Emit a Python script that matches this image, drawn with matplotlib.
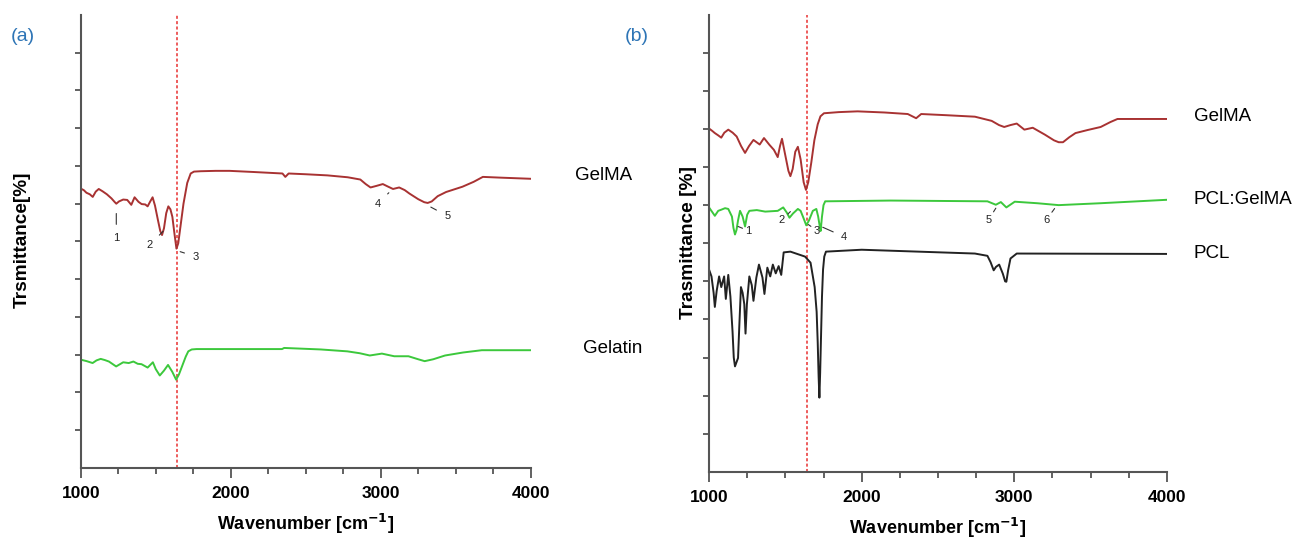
import matplotlib.pyplot as plt

plt.rcParams['font.family'] = ['Liberation Sans', 'DejaVu Sans']

# ---- panel (a) ----
gelma_a_wn = [1000, 1020, 1038, 1060, 1080, 1100, 1120, 1145, 1174, 1205, 1225, 1237, 1255, 1283,
              1310, 1337, 1359, 1385, 1406, 1430, 1446, 1462, 1479, 1495, 1515, 1530, 1542, 1555,
              1570, 1584, 1598, 1611, 1625, 1638, 1650, 1665, 1685, 1710, 1733, 1755, 1800, 1900,
              1992, 2150, 2345, 2364, 2386, 2500, 2645, 2780, 2864, 2900, 2932, 2970, 3014, 3050,
              3082, 3123, 3160, 3191, 3250, 3290, 3313, 3340, 3380, 3436, 3545, 3620, 3681, 3800, 4000]
gelma_a_t = [7.40, 7.36, 7.29, 7.25, 7.18, 7.32, 7.39, 7.33, 7.25, 7.14, 7.05, 7.00, 7.06, 7.11,
             7.10, 6.97, 7.17, 7.05, 6.99, 6.98, 6.93, 7.05, 7.17, 6.95, 6.56, 6.28, 6.17, 6.35,
             6.75, 6.93, 6.85, 6.65, 6.20, 5.81, 5.95, 6.40, 7.00, 7.55, 7.80, 7.85, 7.86, 7.87,
             7.87, 7.84, 7.80, 7.71, 7.80, 7.78, 7.75, 7.70, 7.64, 7.52, 7.43, 7.47, 7.52, 7.45,
             7.39, 7.43, 7.36, 7.27, 7.12, 7.04, 7.02, 7.06, 7.20, 7.31, 7.45, 7.58, 7.71, 7.69, 7.66]

gelatin_wn = [1000, 1040, 1079, 1105, 1133, 1160, 1188, 1236, 1283, 1320, 1351, 1380, 1405, 1446,
              1481, 1500, 1527, 1555, 1582, 1610, 1636, 1655, 1677, 1700, 1717, 1740, 1772, 2000,
              2342, 2356, 2600, 2777, 2860, 2927, 3008, 3090, 3185, 3250, 3293, 3350, 3429, 3550,
              3674, 4000]
gelatin_t = [2.87, 2.83, 2.78, 2.85, 2.89, 2.86, 2.82, 2.69, 2.80, 2.78, 2.82, 2.76, 2.75, 2.66,
             2.80, 2.62, 2.45, 2.58, 2.73, 2.55, 2.34, 2.48, 2.71, 2.95, 3.09, 3.14, 3.15, 3.15,
             3.15, 3.18, 3.14, 3.09, 3.04, 2.98, 3.03, 2.96, 2.96, 2.88, 2.83, 2.88, 2.98, 3.06,
             3.12, 3.12]

peaks_a = ['1', '2', '3', '4', '5']
peaks_a_xy = [(1237, 6.74), (1549, 6.27), (1663, 5.73), (3054, 7.29), (3334, 6.91)]
peaks_a_txt = [(1237, 6.10), (1459, 5.90), (1766, 5.60), (2981, 7.00), (3443, 6.68)]

# ---- panel (b) ----
gelma_b_wn = [1000, 1020, 1038, 1060, 1080, 1100, 1126, 1155, 1181, 1210, 1236, 1262, 1291, 1332,
              1360, 1396, 1425, 1450, 1465, 1478, 1500, 1520, 1533, 1548, 1565, 1582, 1600, 1620,
              1635, 1650, 1670, 1690, 1712, 1730, 1753, 1850, 1973, 2150, 2302, 2357, 2390, 2550,
              2742, 2852, 2900, 2934, 2975, 3016, 3066, 3121, 3200, 3260, 3291, 3319, 3360, 3401,
              3480, 3566, 3630, 3676, 4000]
gelma_b_t = [9.01, 8.95, 8.89, 8.83, 8.77, 8.90, 8.98, 8.90, 8.80, 8.55, 8.37, 8.55, 8.71, 8.59,
             8.76, 8.58, 8.45, 8.26, 8.55, 8.74, 8.30, 7.90, 7.76, 7.95, 8.40, 8.53, 8.20, 7.60,
             7.40, 7.60, 8.12, 8.70, 9.12, 9.33, 9.41, 9.44, 9.46, 9.43, 9.39, 9.28, 9.39, 9.36,
             9.32, 9.21, 9.10, 9.05, 9.10, 9.14, 8.98, 9.03, 8.85, 8.70, 8.65, 8.65, 8.78, 8.89,
             8.97, 9.05, 9.18, 9.26, 9.26]

blend_wn = [1000, 1038, 1060, 1080, 1105, 1126, 1150, 1160, 1170, 1180, 1190, 1203, 1220, 1236,
            1250, 1264, 1313, 1368, 1450, 1486, 1510, 1527, 1550, 1582, 1600, 1620, 1637, 1655,
            1680, 1703, 1715, 1725, 1731, 1740, 1750, 1761, 2192, 2824, 2879, 2912, 2948, 3003,
            3150, 3291, 3400, 3566, 4000]
blend_t = [6.94, 6.72, 6.85, 6.88, 6.92, 6.90, 6.70, 6.40, 6.23, 6.35, 6.60, 6.85, 6.70, 6.44,
           6.75, 6.85, 6.87, 6.83, 6.85, 6.94, 6.80, 6.67, 6.78, 6.90, 6.85, 6.65, 6.47, 6.60,
           6.85, 6.90, 6.70, 6.45, 6.32, 6.70, 7.00, 7.10, 7.12, 7.10, 7.01, 7.08, 6.94, 7.09,
           7.05, 7.00, 7.02, 7.05, 7.14]

pcl_wn = [1000, 1016, 1030, 1038, 1050, 1066, 1080, 1099, 1110, 1126, 1140, 1154, 1162, 1170,
          1180, 1190, 1198, 1209, 1220, 1231, 1239, 1248, 1264, 1280, 1291, 1310, 1327, 1350,
          1363, 1382, 1401, 1418, 1437, 1456, 1473, 1489, 1533, 1629, 1665, 1692, 1705, 1712,
          1718, 1723, 1728, 1734, 1740, 1747, 1755, 1766, 2000, 2742, 2824, 2845, 2865, 2880,
          2901, 2925, 2940, 2948, 2960, 2975, 3016, 4000]
pcl_t = [5.31, 5.13, 4.70, 4.33, 4.75, 5.13, 4.85, 5.13, 4.54, 5.17, 4.60, 3.68, 3.00, 2.77,
         2.88, 2.99, 3.80, 4.85, 4.70, 4.40, 3.63, 4.40, 5.13, 4.90, 4.49, 5.10, 5.44, 5.10,
         4.67, 5.36, 5.13, 5.44, 5.21, 5.40, 5.17, 5.76, 5.78, 5.65, 5.49, 4.85, 4.20, 3.40,
         2.50, 1.95, 2.60, 3.60, 4.60, 5.31, 5.65, 5.78, 5.83, 5.73, 5.67, 5.50, 5.29, 5.38,
         5.44, 5.20, 5.00, 4.99, 5.30, 5.60, 5.73, 5.72]

peaks_b = ['1', '2', '3', '4', '5', '6']
peaks_b_xy = [(1190, 6.44), (1533, 6.83), (1651, 6.49), (1745, 6.42), (2879, 6.92), (3264, 6.91)]
peaks_b_txt = [(1258, 6.33), (1478, 6.62), (1706, 6.33), (1885, 6.17), (2832, 6.62), (3209, 6.61)]

c_red = '#a83232'
c_green = '#3cc83c'
c_black = '#222222'
c_blue = '#2e75b6'

fig = plt.figure(figsize=(12.96, 5.42), dpi=100)
ax1 = fig.add_axes([0.0623, 0.1365, 0.3472, 0.836])
ax2 = fig.add_axes([0.5471, 0.1292, 0.3533, 0.844])


def style(ax):
    ax.set_xlim(1000, 4000)
    ax.set_ylim(0, 12)
    for s in ['top', 'right']:
        ax.spines[s].set_visible(False)
    for s in ['left', 'bottom']:
        ax.spines[s].set_color('#555555')
        ax.spines[s].set_linewidth(1.5)
    ax.set_xticks([1000, 2000, 3000, 4000])
    ax.set_xticks([1250, 1500, 1750, 2250, 2500, 2750, 3250, 3500, 3750], minor=True)
    ax.set_yticks(range(1, 12))
    ax.set_yticklabels([])
    ax.tick_params(axis='x', which='major', length=7, width=1.3, color='#555555', labelsize=12.5, pad=6)
    ax.tick_params(axis='x', which='minor', length=4, width=1.3, color='#555555')
    ax.tick_params(axis='y', length=4, width=1.3, color='#555555')
    for lab in ax.get_xticklabels():
        lab.set_fontweight('bold')
    ax.set_xlabel('Wavenumber [cm$^{\\mathbf{-1}}$]', fontsize=13, fontweight='bold', labelpad=8)
    ax.axvline(1640, color='#e83030', linestyle=(0, (2, 1.5)), linewidth=1.1)


style(ax1)
style(ax2)

ax1.plot(gelma_a_wn, gelma_a_t, color=c_red, linewidth=1.4)
ax1.plot(gelatin_wn, gelatin_t, color=c_green, linewidth=1.4)
ax2.plot(gelma_b_wn, gelma_b_t, color=c_red, linewidth=1.4)
ax2.plot(blend_wn, blend_t, color=c_green, linewidth=1.4)
ax2.plot(pcl_wn, pcl_t, color=c_black, linewidth=1.4)

for lab, xy, xt in zip(peaks_a, peaks_a_xy, peaks_a_txt):
    ax1.annotate(lab, xy=xy, xytext=xt, fontsize=8, ha='center', va='center', color='#222222',
                 arrowprops=dict(arrowstyle='-', color='#333333', lw=0.8, shrinkA=4, shrinkB=0))
for lab, xy, xt in zip(peaks_b, peaks_b_xy, peaks_b_txt):
    ax2.annotate(lab, xy=xy, xytext=xt, fontsize=8, ha='center', va='center', color='#222222',
                 arrowprops=dict(arrowstyle='-', color='#333333', lw=0.8, shrinkA=4, shrinkB=0))

ax1.text(4295, 7.75, 'GelMA', fontsize=13.5, va='center', clip_on=False)
ax1.text(4349, 3.16, 'Gelatin', fontsize=13.5, va='center', clip_on=False)
ax2.text(4176, 9.32, 'GelMA', fontsize=13.5, va='center', clip_on=False)
ax2.text(4176, 7.14, 'PCL:GelMA', fontsize=13.5, va='center', clip_on=False)
ax2.text(4176, 5.72, 'PCL', fontsize=13.5, va='center', clip_on=False)

fig.text(0.017, 0.557, 'Trsmittance[%]', rotation=90, fontsize=13.7, fontweight='bold',
         ha='center', va='center')
fig.text(0.531, 0.553, 'Trasmittance [%]', rotation=90, fontsize=13.8, fontweight='bold',
         ha='center', va='center')
fig.text(0.008, 0.932, '(a)', fontsize=14, color=c_blue, va='center')
fig.text(0.482, 0.932, '(b)', fontsize=14, color=c_blue, va='center')

fig.savefig('out.png', dpi=100)
